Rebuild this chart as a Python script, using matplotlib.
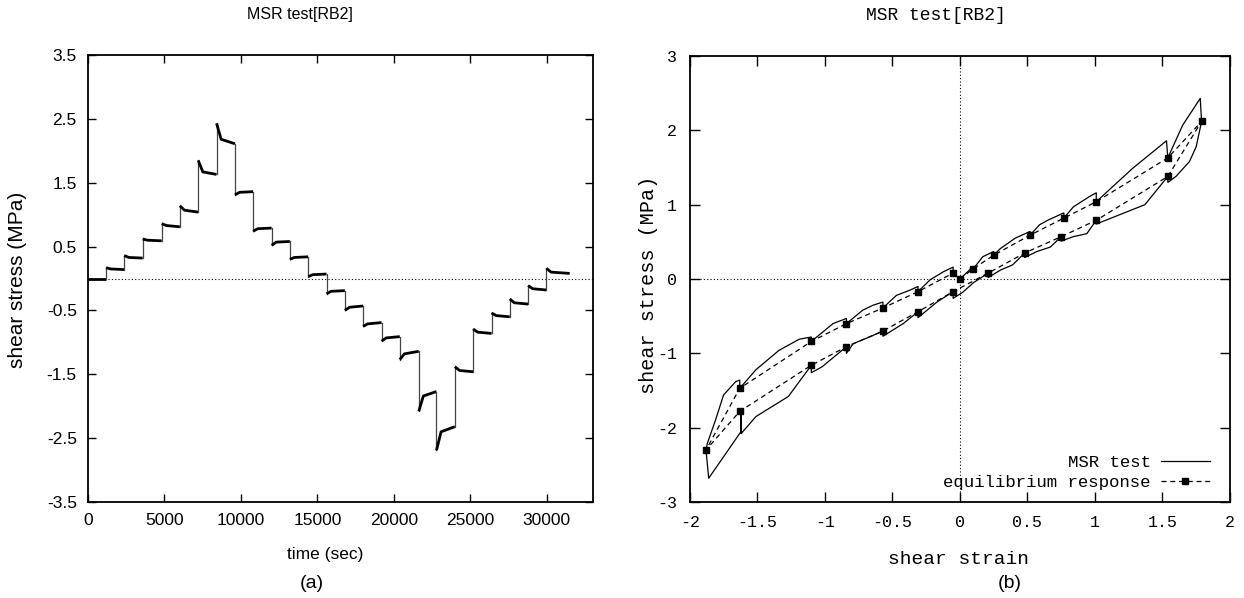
import matplotlib
matplotlib.use("Agg")
import matplotlib.pyplot as plt

plt.rcParams["axes.unicode_minus"] = False

# ---------------- panel (a): stress vs time ----------------
# start time of each load step (s), last entry = end of record
step_times = [0, 1180, 2370, 3580, 4820, 6010, 7210, 8410, 9610, 10800,
              12010, 13200, 14400, 15600, 16800, 17990, 19200, 20390,
              21630, 22790, 23990, 25180, 26390, 27580, 28780, 29980, 31500]
# stress just after the jump, shortly after, and at end of each step (MPa)
stress_jump = [0.00, 0.17, 0.36, 0.62, 0.86, 1.14, 1.85, 2.43, 1.31, 0.74,
               0.52, 0.30, 0.03, -0.24, -0.50, -0.75, -0.98, -1.27, -2.08,
               -2.69, -1.38, -0.79, -0.54, -0.32, -0.11, 0.16]
stress_knee = [0.00, 0.15, 0.33, 0.60, 0.83, 1.07, 1.67, 2.18, 1.35, 0.78,
               0.57, 0.33, 0.06, -0.20, -0.45, -0.71, -0.93, -1.18, -1.84,
               -2.40, -1.44, -0.84, -0.58, -0.38, -0.16, 0.10]
stress_end = [0.00, 0.14, 0.32, 0.59, 0.81, 1.04, 1.63, 2.11, 1.36, 0.79,
              0.58, 0.34, 0.07, -0.19, -0.43, -0.69, -0.91, -1.14, -1.77,
              -2.32, -1.46, -0.86, -0.60, -0.40, -0.18, 0.08]
knee_dt = 300

# ---------------- panel (b): stress vs strain ----------------
msr_strain = [0.00, 0.10, 0.10, 0.17, 0.25, 0.25, 0.30, 0.41, 0.52, 0.52,
              0.59, 0.65, 0.77, 0.77, 0.84, 0.96, 1.01, 1.01, 1.28, 1.53,
              1.54, 1.65, 1.78, 1.79, 1.75, 1.70, 1.60, 1.54, 1.54, 1.37,
              1.01, 1.01, 0.94, 0.84, 0.75, 0.75, 0.67, 0.57, 0.48, 0.48,
              0.39, 0.30, 0.21, 0.21, 0.10, 0.02, -0.05, -0.05, -0.17, -0.31,
              -0.31, -0.42, -0.57, -0.57, -0.67, -0.79, -0.84, -0.84, -1.02,
              -1.10, -1.10, -1.27, -1.51, -1.62, -1.62, -1.62, -1.86, -1.88,
              -1.87, -1.81, -1.75, -1.66, -1.63, -1.63, -1.51, -1.34, -1.19,
              -1.10, -1.10, -0.94, -0.84, -0.84, -0.72, -0.64, -0.57, -0.57,
              -0.47, -0.37, -0.31, -0.31, -0.22, -0.12, -0.05, -0.05]
msr_stress = [0.00, 0.17, 0.14, 0.30, 0.37, 0.32, 0.41, 0.55, 0.64, 0.59,
              0.73, 0.79, 0.89, 0.82, 0.97, 1.11, 1.16, 1.04, 1.49, 1.86,
              1.63, 2.07, 2.43, 2.12, 1.78, 1.58, 1.38, 1.30, 1.38, 1.00,
              0.74, 0.79, 0.61, 0.57, 0.51, 0.57, 0.43, 0.37, 0.29, 0.35,
              0.19, 0.12, 0.02, 0.08, -0.05, -0.18, -0.26, -0.17, -0.31, -0.52,
              -0.44, -0.60, -0.77, -0.70, -0.78, -0.87, -1.00, -0.91, -1.18,
              -1.26, -1.16, -1.58, -1.85, -2.08, -1.78, -2.05, -2.68, -2.30,
              -2.21, -1.90, -1.56, -1.38, -1.36, -1.47, -1.22, -0.96, -0.81,
              -0.78, -0.84, -0.60, -0.53, -0.60, -0.42, -0.35, -0.31, -0.39,
              -0.22, -0.15, -0.10, -0.17, -0.01, 0.10, 0.16, 0.08]

eq_strain = [0.00, 0.10, 0.25, 0.52, 0.77, 1.01, 1.54, 1.79, 1.54, 1.01,
             0.75, 0.48, 0.21, -0.05, -0.31, -0.57, -0.84, -1.10, -1.63,
             -1.88, -1.63, -1.10, -0.84, -0.57, -0.31, -0.05]
eq_stress = [0.00, 0.14, 0.32, 0.59, 0.82, 1.04, 1.63, 2.12, 1.38, 0.79,
             0.57, 0.35, 0.08, -0.17, -0.44, -0.70, -0.91, -1.16, -1.78,
             -2.30, -1.47, -0.84, -0.60, -0.39, -0.17, 0.08]

sans = "Liberation Sans"
mono = "Liberation Mono"

fig = plt.figure(figsize=(12.44, 5.98), dpi=100)

# ---- left panel ----
ax1 = fig.add_axes([0.0707, 0.1605, 0.4057, 0.7475])
ax1.axhline(0, color="black", lw=0.8, ls=(0, (1, 2)))
n = len(stress_end)
for k in range(n):
    t0, t1 = step_times[k], step_times[k + 1]
    ax1.plot([t0, t0 + knee_dt, t1], [stress_jump[k], stress_knee[k], stress_end[k]],
             color="black", lw=2.0, solid_capstyle="butt")
    if k + 1 < n:
        ax1.plot([t1, t1], [stress_end[k], stress_jump[k + 1]], color="#444444", lw=0.9)
ax1.set_xlim(0, 33000)
ax1.set_ylim(-3.5, 3.5)
ax1.set_xticks([0, 5000, 10000, 15000, 20000, 25000, 30000])
yt = [-3.5, -2.5, -1.5, -0.5, 0.5, 1.5, 2.5, 3.5]
ax1.set_yticks(yt)
ax1.set_yticklabels(["%.1f" % v for v in yt])
ax1.tick_params(direction="in", top=True, right=True, length=6, width=1,
                labelsize=12.5, pad=8)
for lab in ax1.get_xticklabels() + ax1.get_yticklabels():
    lab.set_family(sans)
for sp in ax1.spines.values():
    sp.set_linewidth(1.3)

fig.text(300 / 1244, 1 - 15 / 598, "MSR test[RB2]", family=sans, fontsize=11.5,
         ha="center", va="center")
fig.text(325 / 1244, 1 - 555 / 598, "time (sec)", family=sans, fontsize=12.5,
         ha="center", va="center")
fig.text(18 / 1244, 1 - 280 / 598, "shear stress (MPa)", family=sans, fontsize=15,
         ha="center", va="center", rotation=90)
fig.text(312 / 1244, 1 - 583 / 598, "(a)", family=sans, fontsize=14,
         ha="center", va="center")

# ---- right panel ----
ax2 = fig.add_axes([0.5545, 0.1605, 0.4342, 0.7458])
ax2.axhline(0, color="black", lw=0.8, ls=(0, (1, 2)))
ax2.axvline(0, color="black", lw=0.8, ls=(0, (1, 2)))
ax2.plot(msr_strain, msr_stress, color="black", lw=0.9, label="MSR test")
ax2.plot(eq_strain, eq_stress, color="black", lw=0.9, ls=(0, (4, 3)),
         marker="s", markersize=4, label="equilibrium response")
ax2.set_xlim(-2, 2)
ax2.set_ylim(-3, 3)
xt = [-2, -1.5, -1, -0.5, 0, 0.5, 1, 1.5, 2]
ax2.set_xticks(xt)
ax2.set_xticklabels(["%g" % v for v in xt])
ax2.set_yticks([-3, -2, -1, 0, 1, 2, 3])
ax2.set_yticklabels(["%d" % v for v in [-3, -2, -1, 0, 1, 2, 3]])
ax2.tick_params(direction="in", top=True, right=True, length=7, width=1,
                labelsize=12, pad=9)
for lab in ax2.get_xticklabels() + ax2.get_yticklabels():
    lab.set_family(mono)
for sp in ax2.spines.values():
    sp.set_linewidth(1.3)
ax2.legend(loc="lower right", markerfirst=False, frameon=False, handlelength=2.8,
           prop={"family": mono, "size": 12.5}, borderaxespad=0.3,
           labelspacing=0.25, handletextpad=0.6, bbox_to_anchor=(0.985, 0.0))

fig.text(936 / 1244, 1 - 15 / 598, "MSR test[RB2]", family=mono, fontsize=13,
         ha="center", va="center")
fig.text(959 / 1244, 1 - 560 / 598, "shear strain", family=mono, fontsize=14,
         ha="center", va="center")
fig.text(648 / 1244, 1 - 285 / 598, "shear stress (MPa)", family=mono, fontsize=14.5,
         ha="center", va="center", rotation=90)
fig.text(1010 / 1244, 1 - 583 / 598, "(b)", family=sans, fontsize=14,
         ha="center", va="center")

fig.savefig("out.png", dpi=100)
